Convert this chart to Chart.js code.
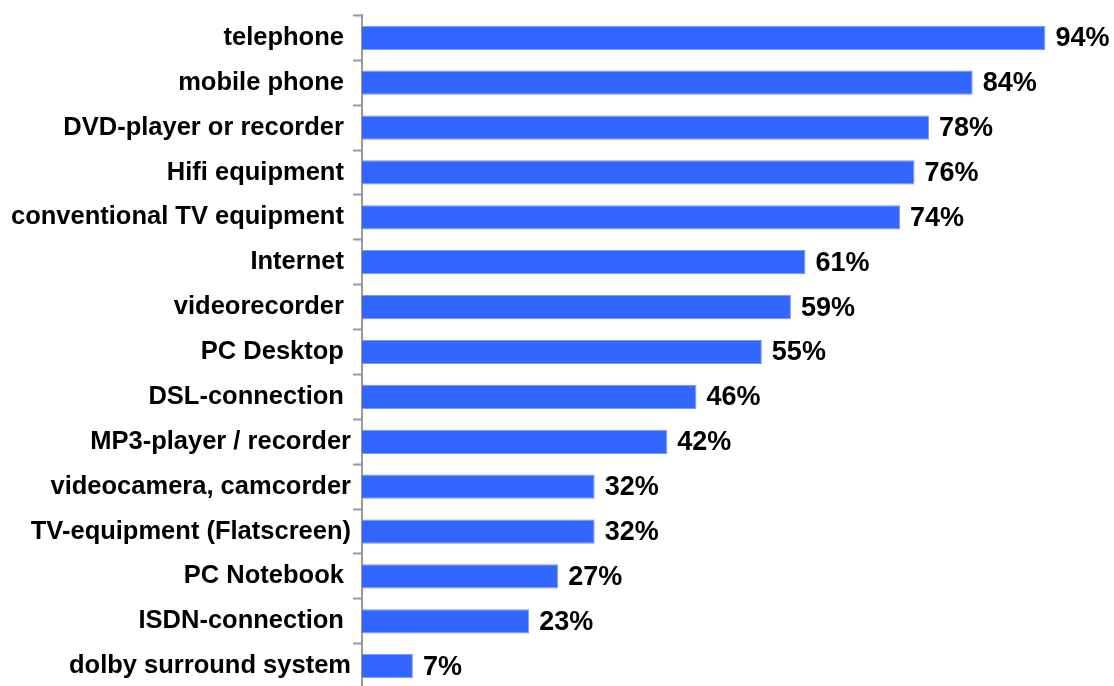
<!DOCTYPE html>
<html>
<head>
<meta charset="utf-8">
<script src="https://cdn.jsdelivr.net/npm/chart.js@4/dist/chart.umd.min.js"></script>
<style>
  html, body { margin: 0; padding: 0; background: #fff; overflow: hidden; }
  #wrap { width: 1114px; height: 704px; position: relative; }
</style>
</head>
<body>
<div id="wrap"><canvas id="chart"></canvas></div>
<script>
'use strict';

// categories (some carry a trailing space, as in the original labels)
var devices = ['telephone ', 'mobile phone ', 'DVD-player or recorder ', 'Hifi equipment ',
  'conventional TV equipment ', 'Internet ', 'videorecorder ', 'PC Desktop ', 'DSL-connection ',
  'MP3-player / recorder', 'videocamera, camcorder', 'TV-equipment (Flatscreen)',
  'PC Notebook ', 'ISDN-connection ', 'dolby surround system'];
// share of households in percent
var shares = [94, 84, 78, 76, 74, 61, 59, 55, 46, 42, 32, 32, 27, 23, 7];

var fontFamily = '"Liberation Sans", Arial, sans-serif';

// draws the "94%" labels to the right of each bar
var valueLabels = {
  id: 'valueLabels',
  afterDatasetsDraw: function(chart) {
    var ctx = chart.ctx;
    var meta = chart.getDatasetMeta(0);
    ctx.save();
    ctx.font = 'bold 27px ' + fontFamily;
    ctx.fillStyle = '#000';
    ctx.textAlign = 'left';
    ctx.textBaseline = 'middle';
    meta.data.forEach(function(bar, i) {
      ctx.fillText(shares[i] + '%', bar.x + 10, bar.y + 1);
    });
    ctx.restore();
  }
};

var ctx = document.getElementById('chart').getContext('2d');
var chart = new Chart(ctx, {
  type: 'bar',
  data: {
    labels: devices,
    datasets: [{
      data: shares,
      backgroundColor: '#3366ff',
      borderColor: '#7b97ff',
      borderWidth: 1,
      barPercentage: 0.54,
      categoryPercentage: 1
    }]
  },
  options: {
    indexAxis: 'y',
    responsive: true,
    maintainAspectRatio: false,
    animation: false,
    layout: { padding: { top: 0, right: 25, bottom: 0, left: 0 } },
    plugins: {
      legend: { display: false },
      tooltip: { enabled: false }
    },
    scales: {
      x: {
        display: false,
        min: 0,
        max: 100
      },
      y: {
        afterFit: function(scale) { scale.width = 362; },
        border: { display: true, color: '#999999', width: 2 },
        grid: {
          drawOnChartArea: false,
          drawTicks: true,
          tickLength: 9,
          tickColor: '#999999',
          tickWidth: 2
        },
        ticks: {
          color: '#000',
          padding: 2,
          font: { family: fontFamily, size: 25.5, weight: 'bold', lineHeight: 1.05 }
        }
      }
    }
  },
  plugins: [valueLabels]
});
</script>
</body>
</html>
